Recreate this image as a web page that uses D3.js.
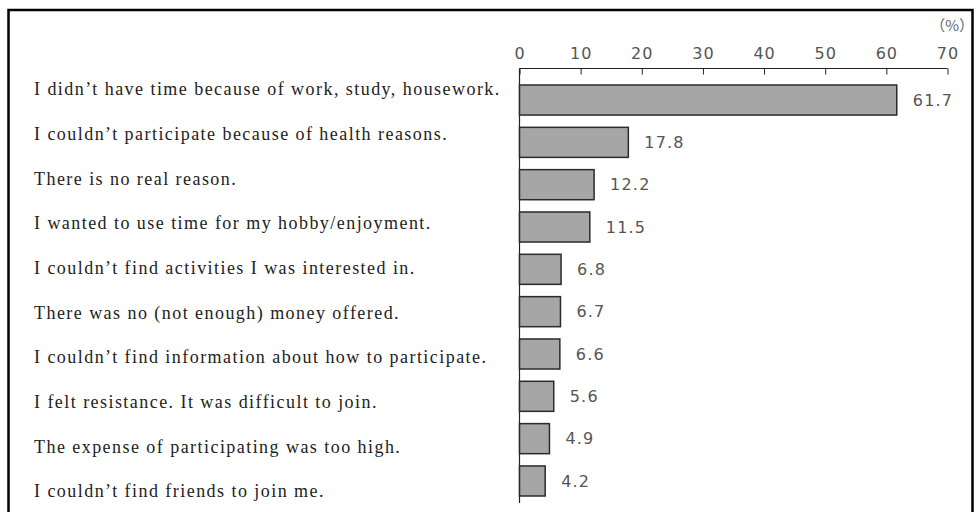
<!DOCTYPE html>
<html>
<head>
<meta charset="utf-8">
<script src="https://cdn.jsdelivr.net/npm/d3@7"></script>
<style>
  body { margin: 0; background: #fff; }
  .axis path, .axis line { stroke: #222; }
  .axis text { font-family: "DejaVu Sans", sans-serif; font-size: 16px; fill: #555; letter-spacing: 1px; }
</style>
</head>
<body>
<div id="graph"></div>
<script>
const reasons = [
	"I didn’t have time because of work, study, housework.",
	"I couldn’t participate because of health reasons.",
	"There is no real reason.",
	"I wanted to use time for my hobby/enjoyment.",
	"I couldn’t find activities I was interested in.",
	"There was no (not enough) money offered.",
	"I couldn’t find information about how to participate.",
	"I felt resistance. It was difficult to join.",
	"The expense of participating was too high.",
	"I couldn’t find friends to join me."
];
const percents = [61.7, 17.8, 12.2, 11.5, 6.8, 6.7, 6.6, 5.6, 4.9, 4.2];
const ticks = [0, 10, 20, 30, 40, 50, 60, 70];
const unitLabel = "（%）";

const width = 976, height = 512;

const data = reasons.map((r, i) => ({ reason: r, value: percents[i] }));

const svg = d3.select("#graph")
	.append("svg")
	.attr("width", width)
	.attr("height", height);

// frame, open at the bottom
svg.append("rect")
	.attr("x", 8.5)
	.attr("y", 10)
	.attr("width", 964)
	.attr("height", 520)
	.attr("fill", "none")
	.attr("stroke", "#000")
	.attr("stroke-width", 2.5);

const xScale = d3.scaleLinear()
	.domain([0, 70])
	.range([519.5, 947.5]);

const yScale = d3.scaleBand()
	.domain(reasons)
	.range([85, 496])
	.paddingInner(0.29)
	.paddingOuter(0);

// labels sit on their own spacing
const labelScale = d3.scalePoint()
	.domain(reasons)
	.range([89, 491]);

const xAxis = d3.axisTop(xScale)
	.tickValues(ticks)
	.tickSize(-6)
	.tickPadding(10);

svg.append("g")
	.attr("class", "axis")
	.attr("transform", "translate(0,68.5)")
	.call(xAxis)
	.call(g => g.select(".domain").attr("d", "M" + xScale(0) + ",0H" + xScale(70)));

svg.append("line")
	.attr("x1", xScale(0))
	.attr("x2", xScale(0))
	.attr("y1", 68.5)
	.attr("y2", 503)
	.attr("stroke", "#222")
	.attr("stroke-width", 1.2);

svg.append("text")
	.attr("x", 974)
	.attr("y", 31)
	.attr("text-anchor", "end")
	.style("font-family", "'Noto Sans CJK JP', sans-serif")
	.style("font-size", "15px")
	.style("fill", "#666")
	.text(unitLabel);

svg.selectAll("rect.bar")
	.data(data)
	.enter().append("rect")
	.attr("class", "bar")
	.attr("x", xScale(0))
	.attr("y", d => yScale(d.reason))
	.attr("width", d => xScale(d.value) - xScale(0))
	.attr("height", yScale.bandwidth())
	.attr("fill", "#a6a6a6")
	.attr("stroke", "#2b2b2b")
	.attr("stroke-width", 1.5);

svg.selectAll("text.value")
	.data(data)
	.enter().append("text")
	.attr("class", "value")
	.attr("x", d => xScale(d.value) + 16)
	.attr("y", d => yScale(d.reason) + yScale.bandwidth() / 2)
	.attr("dy", "0.36em")
	.style("font-family", "'DejaVu Sans', sans-serif")
	.style("font-size", "16px")
	.style("letter-spacing", "1.2px")
	.style("fill", "#555")
	.text(d => d.value.toFixed(1));

svg.selectAll("text.reason")
	.data(data)
	.enter().append("text")
	.attr("class", "reason")
	.attr("x", 34)
	.attr("y", d => labelScale(d.reason))
	.attr("dy", "0.35em")
	.style("font-family", "'Liberation Serif', serif")
	.style("font-size", "18px")
	.style("letter-spacing", "1.45px")
	.style("fill", "#222")
	.text(d => d.reason);
</script>
</body>
</html>
